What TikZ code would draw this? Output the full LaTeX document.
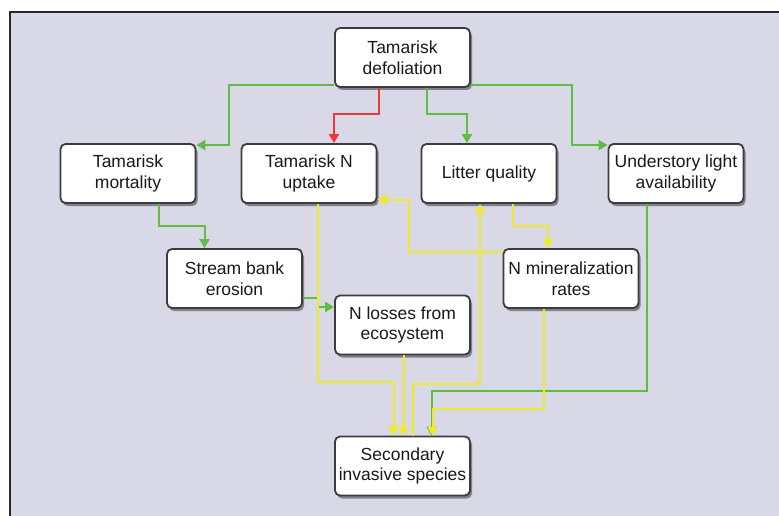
\documentclass[tikz,border=0pt]{standalone}
\usepackage{fontspec}
\setmainfont{Liberation Sans}
\usetikzlibrary{arrows.meta,shadows}
\definecolor{bgc}{RGB}{216,216,230}
\definecolor{frm}{RGB}{40,40,44}
\definecolor{gline}{RGB}{98,188,68}
\definecolor{rline}{RGB}{238,56,56}
\definecolor{yline}{RGB}{238,236,40}
\definecolor{boxb}{RGB}{60,60,64}
\definecolor{txt}{RGB}{25,25,25}
\tikzset{
  box/.style={draw=boxb, line width=1.8pt, fill=white, rounded corners=5pt,
    minimum width=135pt, minimum height=59pt, align=center, text=txt,
    font=\fontsize{17.5pt}{20.5pt}\selectfont, inner sep=2pt,
    drop shadow={shadow xshift=2pt, shadow yshift=-3pt, opacity=0.4, fill=black}},
  conn/.style={line width=2pt, -{Triangle[length=9pt,width=10pt]}},
  ga/.style={conn, gline},
  ra/.style={conn, rline},
  ya/.style={conn, yline},
}
\begin{document}
\begin{tikzpicture}[x=1pt,y=-1pt]
\useasboundingbox (0,0) rectangle (779,516);
\clip (0,0) rectangle (779,516);
\draw[fill=bgc, draw=frm, line width=2pt] (10,12) rectangle (790,530);

\node[box] (def)  at (402.5,57.5)  {Tamarisk\\defoliation};
\node[box] (mort) at (128,173.5)   {Tamarisk\\mortality};
\node[box] (upt)  at (309,173.5)   {Tamarisk N\\uptake};
\node[box] (lit)  at (489,173.5)   {Litter quality};
\node[box] (und)  at (676,173.5)   {Understory light\\availability};
\node[box] (bank) at (234.5,278.5) {Stream bank\\erosion};
\node[box] (nmin) at (571,278.5)   {N mineralization\\rates};
\node[box] (loss) at (402.5,325)   {N losses from\\ecosystem};
\node[box] (sec)  at (402.5,466)   {Secondary\\invasive species};

% green and red
\draw[ga] ([yshift=3pt]def.south west) -| ([xshift=33pt,yshift=-2pt]mort.north east) -- ([yshift=-2pt]mort.north east);
\draw[ga] ([yshift=3pt]def.south east) -| ([xshift=-36pt,yshift=-2pt]und.north west) -- ([yshift=-2pt]und.north west);
\draw[ra] ([xshift=-24pt]def.south) -- ++(0,26) -| ([xshift=25pt]upt.north);
\draw[ga] ([xshift=24pt]def.south) -- ++(0,26) -| ([xshift=-22pt]lit.north);
\draw[ga] ([xshift=31pt]mort.south) -- ++(0,22) -| ([xshift=-30pt]bank.north);
\draw[ga] ([yshift=-19.5pt]bank.east) -- ++(15,0) |- ([yshift=18pt]loss.west);
\draw[ga] ([xshift=-29pt]und.south) -- ++(0,187) -| ([xshift=29pt]sec.north);

% yellow
\draw[ya] ([yshift=27pt]nmin.west) -| ([xshift=32pt,yshift=-26pt]upt.east) -- ([yshift=-26pt]upt.east);
\draw[ya] ([xshift=24pt]lit.south) -- ++(0,22) -| ([xshift=-23pt]nmin.north);
\draw[ya] ([xshift=9pt]upt.south) |- ([xshift=-9pt,yshift=54pt]sec.north) -- ([xshift=-9pt]sec.north);
\draw[ya] ([xshift=1pt]loss.south) -- ([xshift=1pt]sec.north);
\draw[ya] ([xshift=10pt]sec.north) -- ++(0,-52) -| ([xshift=-9pt]lit.south);
\draw[ya] ([xshift=-27pt]nmin.south) -- ++(0,100) -| ([xshift=30pt]sec.north);
\end{tikzpicture}
\end{document}
